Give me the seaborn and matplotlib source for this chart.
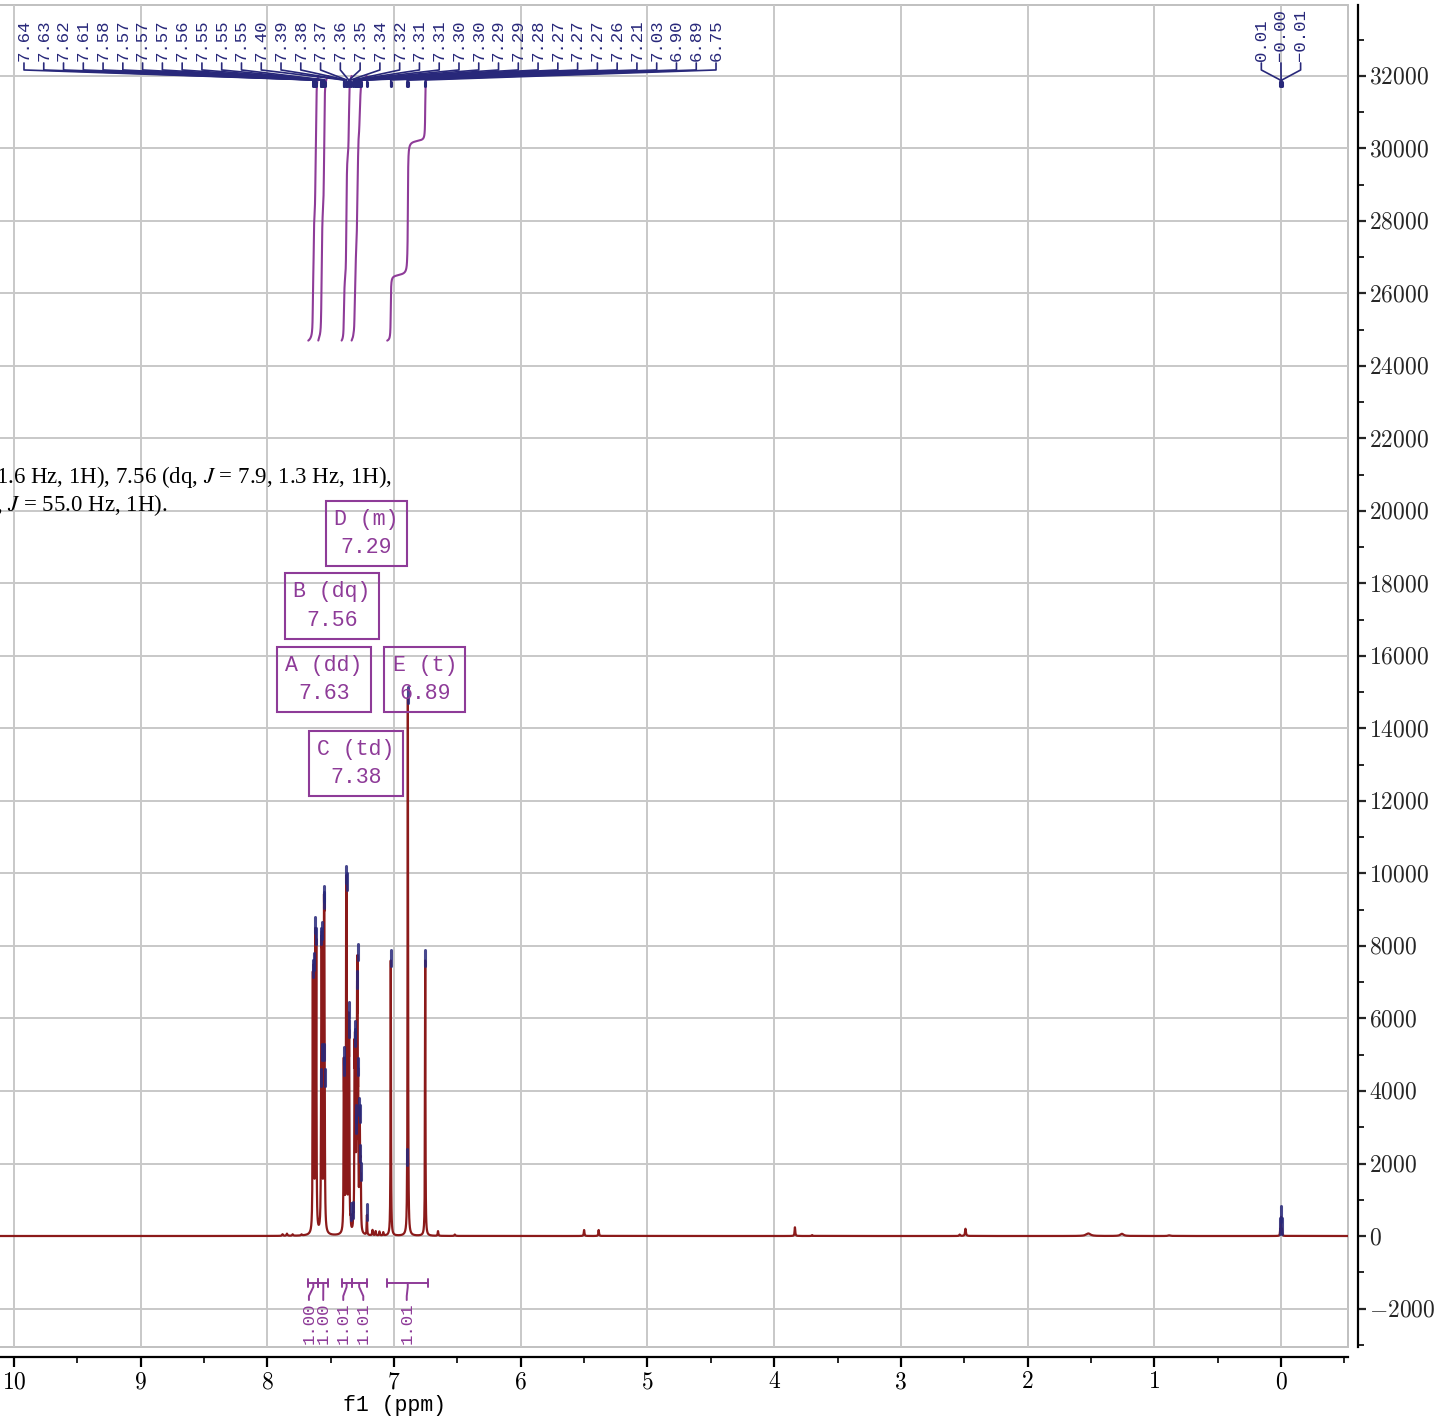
import numpy as np
import pandas as pd
import matplotlib
matplotlib.use("Agg")
import matplotlib.pyplot as plt
import matplotlib.transforms as mtransforms
from matplotlib.patches import Rectangle
from matplotlib.ticker import MultipleLocator, FuncFormatter
import seaborn as sns

# ---- data ----
# picked peaks (ppm) and the apparent peak tops (intensity)
pick_ppm = [7.641, 7.634, 7.621, 7.614,
            7.576, 7.573, 7.570, 7.567, 7.556, 7.553, 7.550, 7.547,
            7.397, 7.393, 7.378, 7.374, 7.358, 7.354,
            7.343, 7.322, 7.312, 7.308, 7.303, 7.298, 7.292, 7.288, 7.283,
            7.273, 7.270, 7.266, 7.262, 7.214,
            7.026, 6.897, 6.891, 6.754]
pick_height = [7300, 7500, 8500, 8200,
               4300, 8200, 8350, 5000, 5000, 9350, 9200, 4300,
               4900, 4600, 9900, 9700, 6150, 5650,
               600, 650, 5400, 5630, 3300, 3000, 7000, 7750, 4600,
               3500, 3300, 2200, 1700, 580,
               7600, 2100, 14850, 7600]

# TMS peaks
tms_ppm = [0.006, -0.001, -0.008]
tms_height = [200, 530, 200]

# small peaks that were not picked
minor_ppm = [7.88, 7.845, 7.80, 7.73, 7.17, 7.145, 7.115, 7.085, 6.653, 6.52,
             5.50, 5.385, 3.836, 3.70, 2.535, 2.49, 1.52, 1.255, 0.88]
minor_height = [45, 60, 40, 30, 150, 120, 110, 90, 130, 40,
                165, 165, 240, 25, 40, 200, 70, 60, 20]
minor_width = [0.004, 0.004, 0.004, 0.004, 0.003, 0.003, 0.003, 0.003, 0.003, 0.004,
               0.003, 0.003, 0.003, 0.004, 0.004, 0.004, 0.02, 0.015, 0.01]

# multiplet boxes
mult_label = ["A (dd)", "B (dq)", "C (td)", "D (m)", "E (t)"]
mult_shift = ["7.63", "7.56", "7.38", "7.29", "6.89"]

# integrals
integ_from = [7.677, 7.598, 7.414, 7.335, 7.054]
integ_to = [7.598, 7.519, 7.335, 7.216, 6.730]
integ_value = ["1.00", "1.00", "1.01", "1.01", "1.01"]

report_line1 = "1.6 Hz, 1H), 7.56 (dq, $J$ = 7.9, 1.3 Hz, 1H),"
report_line2 = ", $J$ = 55.0 Hz, 1H)."

# ---- layout ----
mult_box_x = [7.553, 7.490, 7.301, 7.218, 6.757]
mult_box_y = [15352, 17379, 13034, 19379, 15352]
integ_label_x = [7.672, 7.559, 7.401, 7.243, 6.90]

red = '#8b1a1a'
navy = '#28287a'
purple = '#8e3b98'
gridc = '#c8c8c8'

sns.set_theme(style='white')
plt.rcParams['mathtext.fontset'] = 'cm'
plt.rcParams['font.family'] = ['Liberation Serif', 'DejaVu Serif']


def lorentz(x, x0, w):
    return 1.0 / (1.0 + ((x - x0) / w) ** 2)


W = 0.002
peaks = np.array(pick_ppm + tms_ppm)
tops = np.array(pick_height + tms_height, dtype=float)
# line amplitudes that give the read peak tops
M = lorentz(peaks[:, None], peaks[None, :], W)
amps = np.clip(np.linalg.solve(M, tops), 0, None)

x = np.arange(-0.53, 10.35, 0.0002)


def spectrum(xx):
    xx = np.atleast_1d(xx)
    s = (amps[None, :] * lorentz(xx[:, None], peaks[None, :], W)).sum(axis=1)
    for p, h, w in zip(minor_ppm, minor_height, minor_width):
        s += h * lorentz(xx, p, w)
    return s


spec = spectrum(x)
df = pd.DataFrame({'ppm': x, 'intensity': spec})

fig = plt.figure(figsize=(14.37, 14.21), dpi=100)
ax = fig.add_axes([-30 / 1437, 74 / 1421, 1378 / 1437, 1342.5 / 1421])

sns.lineplot(data=df, x='ppm', y='intensity', ax=ax, color=red, lw=1.6,
             estimator=None, sort=False, legend=False, zorder=3)
ax.set_xlabel('')
ax.set_ylabel('')

ax.set_xlim(10.347, -0.529)
ax.set_ylim(-3062, 33972)

ax.xaxis.set_major_locator(MultipleLocator(1))
ax.xaxis.set_minor_locator(MultipleLocator(0.5))
ax.yaxis.set_major_locator(MultipleLocator(2000))
ax.yaxis.set_minor_locator(MultipleLocator(1000))
ax.xaxis.set_major_formatter(FuncFormatter(lambda v, p: f"${int(round(v))}$"))
ax.yaxis.set_major_formatter(FuncFormatter(lambda v, p: f"${int(round(v))}$"))

ax.grid(True, which='major', color=gridc, lw=1.4)
ax.set_axisbelow(True)
ax.add_patch(Rectangle((0, 0), 1, 1, transform=ax.transAxes, fill=False,
                       ec='#c0c0c0', lw=1.4, clip_on=False, zorder=0.5))

ax.yaxis.tick_right()
ax.spines['left'].set_visible(False)
ax.spines['top'].set_visible(False)
for s in ['bottom', 'right']:
    ax.spines[s].set_position(('outward', 7.2))
    ax.spines[s].set_color('black')
    ax.spines[s].set_linewidth(1.6)
ax.tick_params(axis='x', which='major', direction='out', length=7, width=1.6,
               labelsize=17, pad=4, colors='black', bottom=True)
ax.tick_params(axis='x', which='minor', direction='out', length=4, width=1.4, bottom=True)
ax.tick_params(axis='y', which='major', direction='out', length=6, width=1.6,
               labelsize=17, pad=2, right=True, left=False)
ax.tick_params(axis='y', which='minor', direction='out', length=4, width=1.4,
               right=True, left=False)

# peak markers on tops
for p in pick_ppm + tms_ppm:
    v = spectrum(p)[0]
    ax.plot([p, p], [v - 150, v + 300], color=navy, lw=2.2, alpha=0.85, zorder=4)

# peak pick labels with brackets
y_text, y_t1, y_t2, y_join, y_bot = 32414, 32359, 32166, 31890, 31710


def pick_group(label_x, picks):
    for lx, p in zip(label_x, picks):
        ax.plot([lx, lx, p, p], [y_t1, y_t2, y_join, y_bot], color=navy, lw=1.2,
                zorder=5, clip_on=False)
        ax.plot([p, p], [y_join - 60, y_bot], color=navy, lw=2.2, zorder=5)
        ax.text(lx, y_text, f"{p:.2f}".replace("-", "\u2212"), rotation=90,
                ha='center', va='bottom', fontsize=12.5, family='Liberation Mono',
                color=navy)


pick_group(np.linspace(9.921, 4.459, len(pick_ppm)), pick_ppm)
pick_group([0.155, 0.0, -0.155], tms_ppm)

# integral curves
for hi, lo in zip(integ_from, integ_to):
    m = (x <= hi) & (x >= lo)
    xs = x[m][::-1]
    ys = spec[m][::-1]
    c = np.cumsum(ys)
    ax.plot(xs, 24700 + c / c[-1] * 7300, color=purple, lw=1.5, zorder=4)

# integration brackets at the bottom
yb = -1297
for hi, lo, lab, lx in zip(integ_from, integ_to, integ_value, integ_label_x):
    ax.plot([hi, lo], [yb, yb], color=purple, lw=1.4)
    ax.plot([hi, hi], [yb - 110, yb + 110], color=purple, lw=1.4)
    ax.plot([lo, lo], [yb - 110, yb + 110], color=purple, lw=1.4)
    mid = (hi + lo) / 2
    ax.plot([mid, mid, lx, lx], [yb, yb - 110, yb - 360, yb - 470], color=purple, lw=1.4)
    ax.text(lx, yb - 524, lab, rotation=90, ha='center', va='top', fontsize=12.5,
            family='Liberation Mono', color=purple)

# multiplet boxes
for lab, sh, bx, by in zip(mult_label, mult_shift, mult_box_x, mult_box_y):
    ax.text(bx, by, f"{lab}\n{sh}", ha='center', va='center', multialignment='center',
            fontsize=15.5, family='Liberation Mono', color=purple, linespacing=1.45,
            bbox=dict(boxstyle='square,pad=0.38', fc='none', ec=purple, lw=1.5), zorder=6)

# report text (cut at the left edge, as in the source picture)
fig.text(392 / 1437, 1 - 483 / 1421, report_line1, ha='right', va='baseline',
         fontsize=16.5, family='Liberation Serif', math_fontfamily='stix', color='black')
fig.text(168 / 1437, 1 - 511 / 1421, report_line2, ha='right', va='baseline',
         fontsize=16.5, family='Liberation Serif', math_fontfamily='stix', color='black')

# axis label
trans = mtransforms.blended_transform_factory(ax.transData, ax.transAxes)
ax.text(7.0, -0.036, "f1 (ppm)", transform=trans, ha='center', va='top',
        fontsize=15.5, family='Liberation Mono', color='black')

fig.savefig('out.png', dpi=100)
